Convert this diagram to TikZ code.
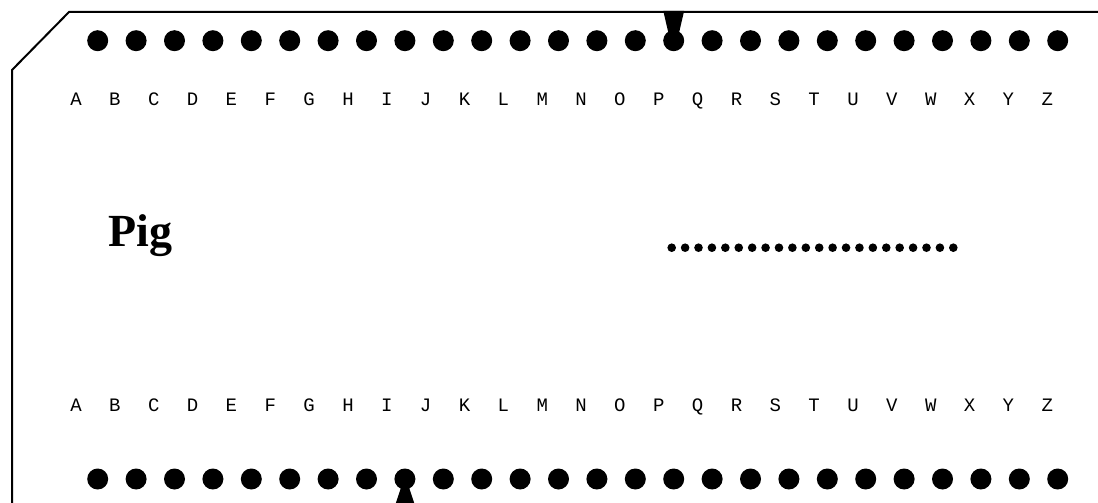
\documentclass[tikz,border=0pt]{standalone}
\usepackage{fontspec}
\setmainfont{Liberation Serif}
\newfontfamily\letterfont{Liberation Mono}
\begin{document}
\begin{tikzpicture}[x=1pt,y=-1pt,
  edge/.style={line width=2pt,line cap=rect,line join=miter},
  bigdot/.style={circle,fill=black,minimum size=21pt,inner sep=0pt},
  smalldot/.style={circle,fill=black,minimum size=8.6pt,inner sep=0pt},
  letter/.style={font=\letterfont\fontsize{19}{19}\selectfont,inner sep=0pt,anchor=base},
  notch/.style={fill=black}]
\useasboundingbox (0,0) rectangle (1098,503);
% card outline
\coordinate (tr) at (1100,12);
\coordinate (tc) at (69,12);
\coordinate (lc) at (12,70);
\coordinate (bl) at (12,505);
\draw[edge] (tr) -- (tc) -- (lc) -- (bl);
% holes and letters
\foreach \l [count=\i from 0] in {A,B,C,D,E,F,G,H,I,J,K,L,M,N,O,P,Q,R,S,T,U,V,W,X,Y,Z} {
  \node[bigdot] (t\i) at ({97.7+38.4*\i},40.7) {};
  \node[bigdot] (b\i) at ({97.7+38.4*\i},479) {};
  \node[letter] (lt\i) at ({76+38.85*\i},105) {\l};
  \node[letter] (lb\i) at ({76+38.85*\i},411) {\l};
}
% notches
\fill[notch] (663.3,11) -- (684.1,11) -- (678.3,36) -- (669.1,36) -- cycle;
\fill[notch] (395.5,504) -- (414.5,504) -- (408.5,486) -- (401.5,486) -- cycle;
% name
\node[font=\bfseries\fontsize{46}{46}\selectfont,inner sep=0pt,anchor=base west] (pig) at (108,246.7) {Pig};
% blank
\foreach \j in {0,...,21} {
  \node[smalldot] (s\j) at ({671.7+13.41*\j},247.7) {};
}
\end{tikzpicture}
\end{document}
